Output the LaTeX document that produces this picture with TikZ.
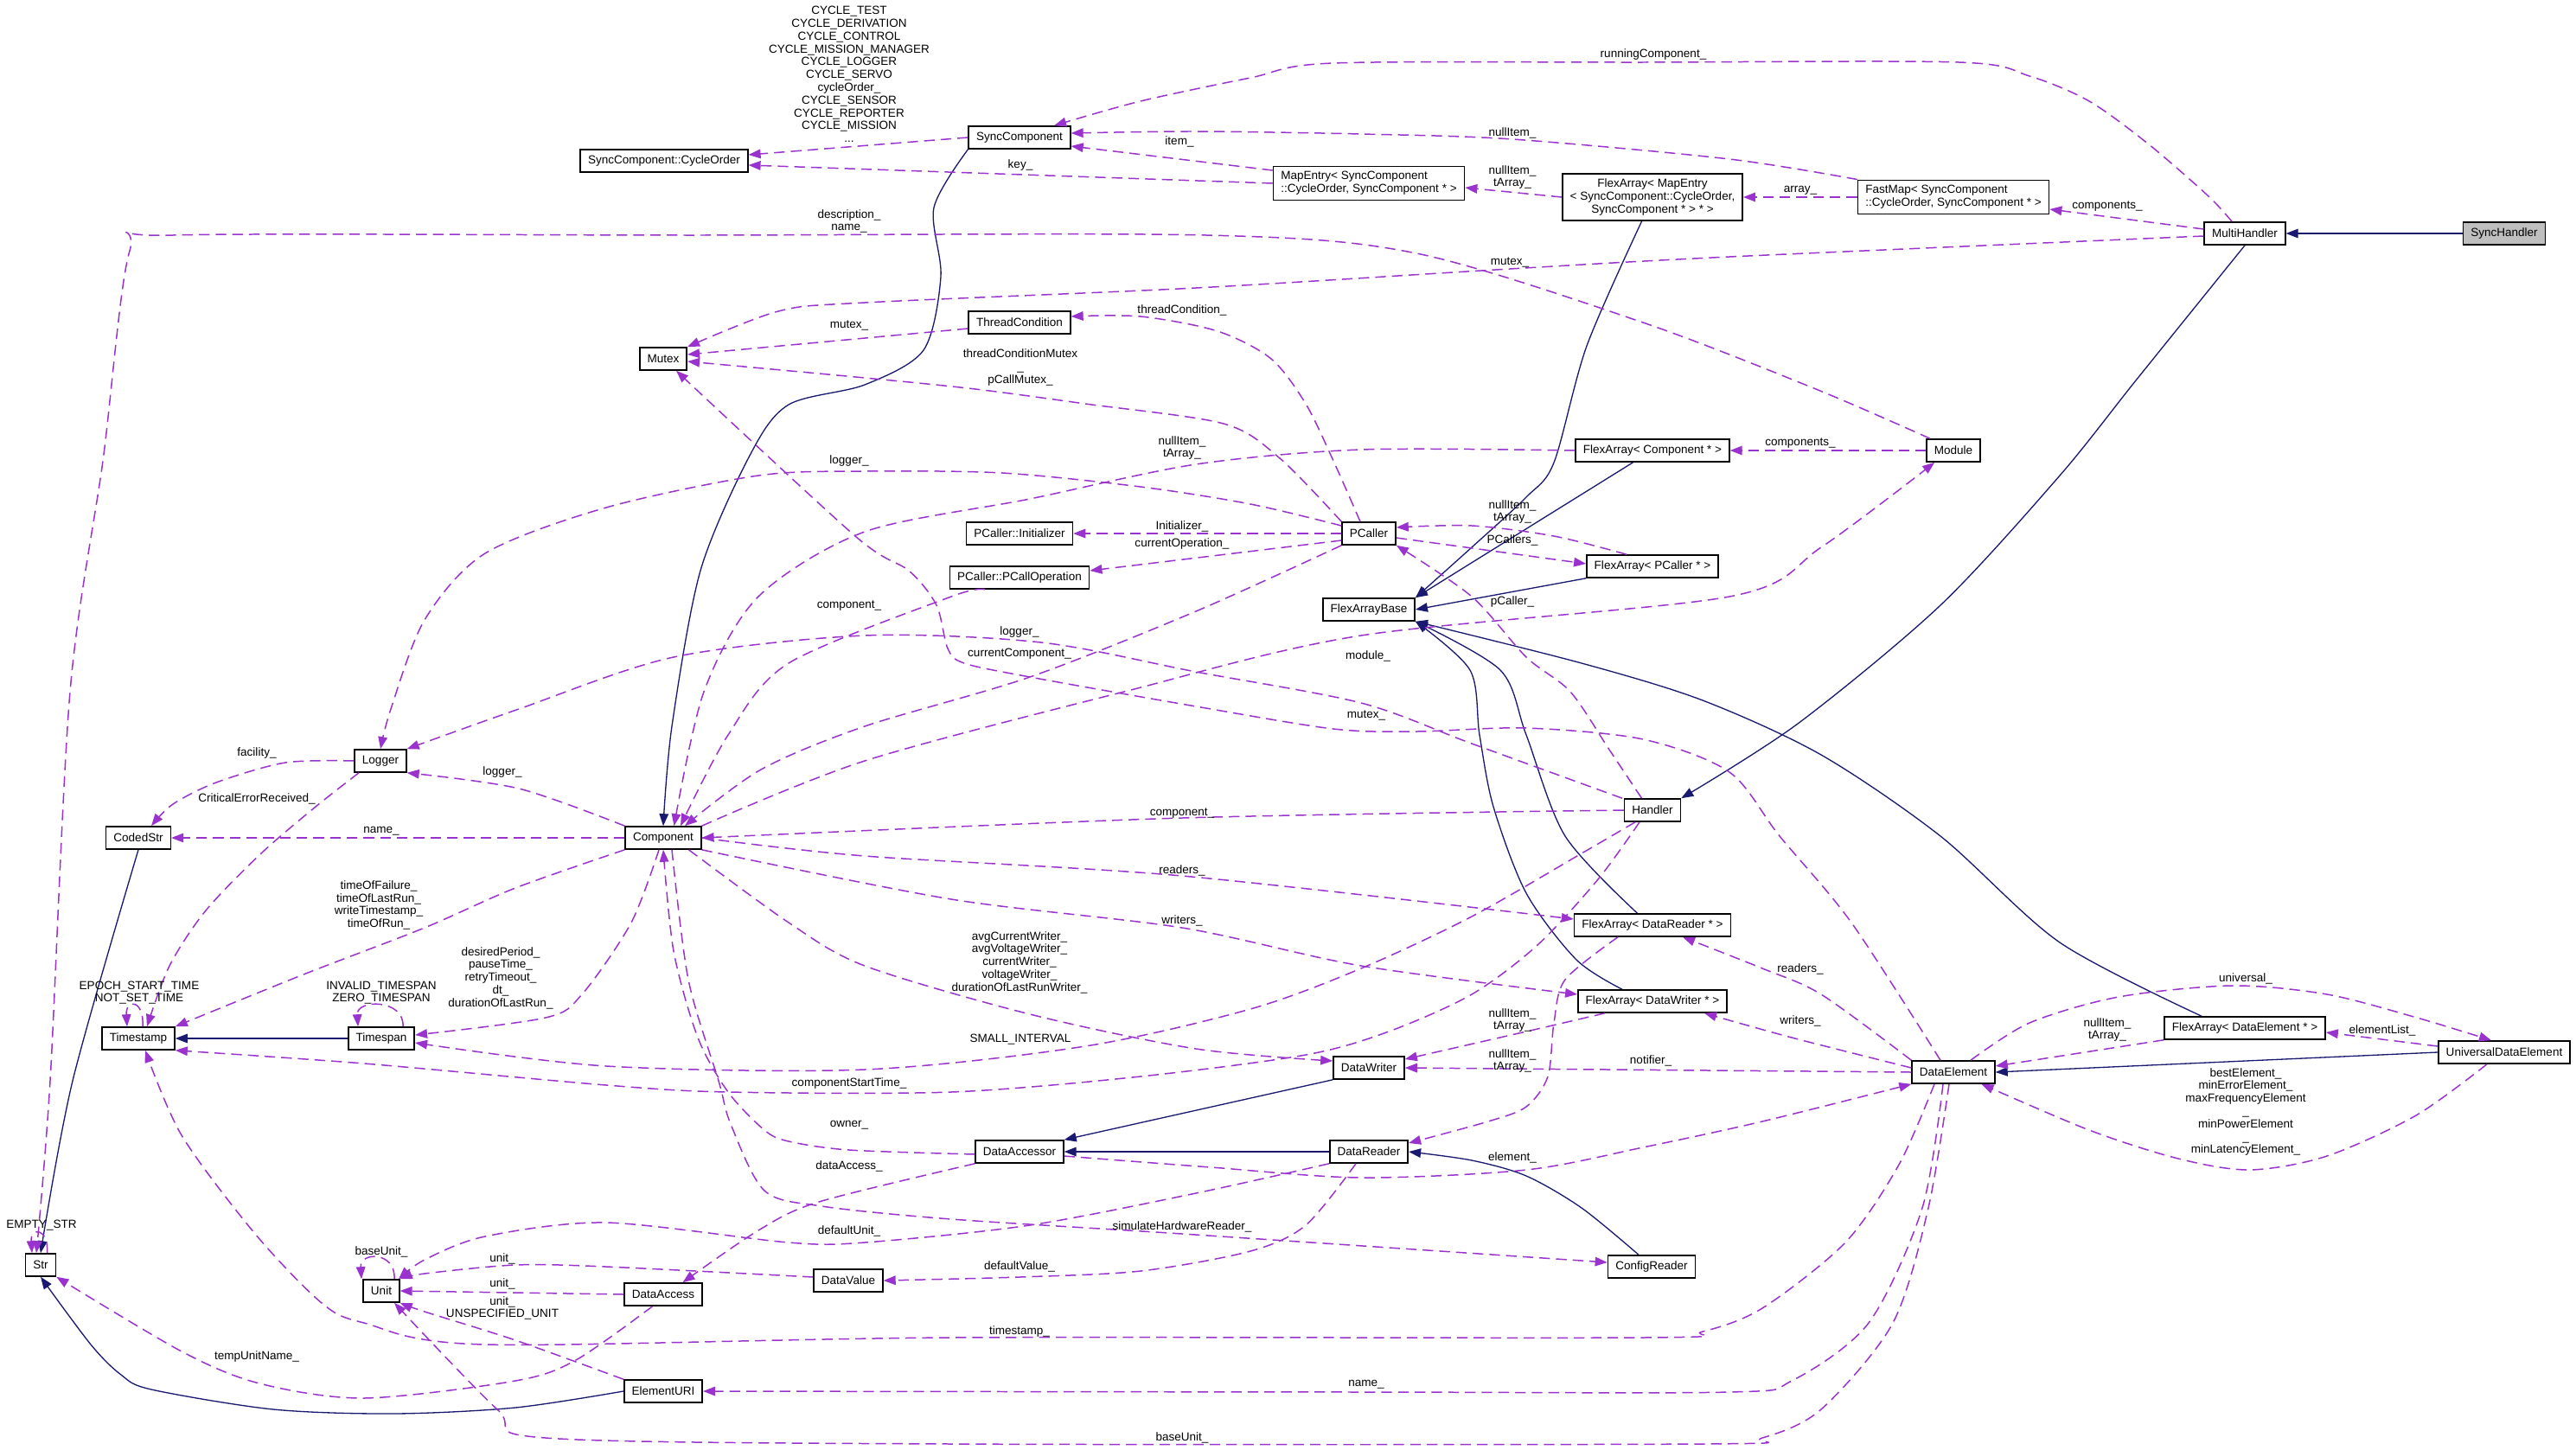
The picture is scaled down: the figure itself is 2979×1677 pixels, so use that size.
\documentclass[tikz,border=0pt]{standalone}
\usepackage{fontspec}
\setmainfont{Liberation Sans}
\usetikzlibrary{arrows.meta}
\definecolor{edgepurple}{RGB}{154,50,205}
\definecolor{inhnavy}{RGB}{25,25,112}
\definecolor{mainfill}{RGB}{191,191,191}
\def\gfont{\fontsize{7.7}{8.4}\selectfont}
\tikzset{
  cls/.style={draw=black,line width=0.9pt,fill=white,font=\gfont,inner xsep=5pt,inner ysep=3.5pt,minimum height=0.52cm},
  mainclass/.style={cls,fill=mainfill},
  lbl/.style={font=\gfont,align=center,inner sep=0pt},
  useedge/.style={draw=edgepurple,line width=0.85pt,dash pattern=on 7pt off 4pt,-{Triangle[length=8pt,width=6pt]}},
  inh/.style={draw=inhnavy,line width=0.75pt,-{Triangle[length=8pt,width=6pt]}},
}

\begin{document}
\begin{tikzpicture}[x=0.02cm,y=-0.02cm]
\useasboundingbox (0,0) rectangle (2979,1677);

% classes
\node[mainclass] (synchandler) at (2896,270) {SyncHandler};
\node[cls] (multihandler) at (2596,270) {MultiHandler};
\node[cls,align=left] (fastmap) at (2259,228) {FastMap< SyncComponent\\::CycleOrder, SyncComponent * >};
\node[cls,align=center] (flexmap) at (1911,228) {FlexArray< MapEntry\\< SyncComponent::CycleOrder,\\ SyncComponent * > * >};
\node[cls,align=left] (mapentry) at (1583,212) {MapEntry< SyncComponent\\::CycleOrder, SyncComponent * >};
\node[cls] (synccomp) at (1179,159) {SyncComponent};
\node[cls] (cycleorder) at (768,186) {SyncComponent::CycleOrder};
\node[cls] (mutex) at (767,415) {Mutex};
\node[cls] (threadcond) at (1179,373) {ThreadCondition};
\node[cls] (module) at (2259,521) {Module};
\node[cls] (flexcomp) at (1911,521) {FlexArray< Component * >};
\node[cls] (pcaller) at (1583,617) {PCaller};
\node[cls] (pcinit) at (1179,617) {PCaller::Initializer};
\node[cls] (pcop) at (1179,668) {PCaller::PCallOperation};
\node[cls] (flexpcaller) at (1911,655) {FlexArray< PCaller * >};
\node[cls] (flexbase) at (1583,705) {FlexArrayBase};
\node[cls] (logger) at (440,880) {Logger};
\node[cls] (codedstr) at (160,969) {CodedStr};
\node[cls] (component) at (767,969) {Component};
\node[cls] (timestamp) at (160,1201) {Timestamp};
\node[cls] (timespan) at (441,1201) {Timespan};
\node[cls] (handler) at (1911,937) {Handler};
\node[cls] (flexreader) at (1911,1070) {FlexArray< DataReader * >};
\node[cls] (flexwriter) at (1911,1158) {FlexArray< DataWriter * >};
\node[cls] (datawriter) at (1583,1235) {DataWriter};
\node[cls] (dataelement) at (2259,1240) {DataElement};
\node[cls] (flexelement) at (2596,1189) {FlexArray< DataElement * >};
\node[cls] (universal) at (2896,1217) {UniversalDataElement};
\node[cls] (str) at (47,1463) {Str};
\node[cls] (unit) at (441,1493) {Unit};
\node[cls] (dataaccess) at (767,1497) {DataAccess};
\node[cls] (datavalue) at (981,1481) {DataValue};
\node[cls] (elementuri) at (767,1609) {ElementURI};
\node[cls] (dataaccessor) at (1179,1332) {DataAccessor};
\node[cls] (datareader) at (1583,1332) {DataReader};
\node[cls] (configreader) at (1910,1465) {ConfigReader};

% inheritance
\draw[inh] (synchandler.west) -- (multihandler.east);
\draw[inh] plot[smooth] coordinates {(multihandler.south) (2470,440) (2382,550) (2244,700) (2079,837) (handler.north east)};
\draw[inh] plot[smooth] coordinates {(synccomp.south west) (1080,240) (1088,320) (1068,405) (1000,445) (912,468) (868,525) (810,660) (777,840) (component.north)};
\draw[inh] plot[smooth] coordinates {(codedstr.south) (84,1250) (str.north)};
\draw[inh] plot[smooth] coordinates {(elementuri.west) (596,1628) (456,1635) (316,1630) (175,1607) (140,1590) (105,1555) (str.south)};
\draw[inh] (timespan.west) -- (timestamp.east);
\draw[inh] plot[smooth] coordinates {([xshift=-0.25cm]flexmap.south) (1835,400) (1797,535) (1765,575) (1702,633) (flexbase.north east)};
\draw[inh] ([xshift=-0.45cm]flexcomp.south) -- (flexbase.north east);
\draw[inh] (flexpcaller.south west) -- (flexbase.east);
\draw[inh] plot[smooth] coordinates {([xshift=-0.35cm]flexreader.north) (1810,967) (1765,850) (1735,775) (flexbase.south east)};
\draw[inh] plot[smooth] coordinates {([xshift=-0.7cm]flexwriter.north) (1823,1110) (1765,1033) (1727,933) (1711,850) (1700,775) (flexbase.south east)};
\draw[inh] plot[smooth] coordinates {([xshift=-1cm]flexelement.north) (2382,1090) (2244,967) (2106,873) (1969,810) (1829,767) (flexbase.south east)};
\draw[inh] (datawriter.south west) -- (dataaccessor.north east);
\draw[inh] (datareader.west) -- (dataaccessor.east);
\draw[inh] plot[smooth] coordinates {([xshift=-0.3cm]configreader.north) (1829,1397) (1765,1360) (1702,1342) (datareader.east)};
\draw[inh] (universal.west) -- (dataelement.east);

% usage
\draw[useedge] (synccomp.west) -- ([yshift=0.14cm]cycleorder.east);
\draw[useedge] (mapentry.west) -- ([yshift=-0.1cm]cycleorder.east);
\draw[useedge] ([yshift=0.3cm]mapentry.west) -- ([yshift=-0.2cm]synccomp.east);
\draw[useedge] plot[smooth] coordinates {(fastmap.north west) (2000,184) (1749,161) (1574,155) (1383,152) ([yshift=0.1cm]synccomp.east)};
\draw[useedge] plot[smooth] coordinates {([xshift=-0.3cm]multihandler.north) (2554,227) (2485,167) (2416,117) (2347,88) (2265,72) (1900,72) (1542,73) (1446,90) (1319,117) ([xshift=0.8cm]synccomp.north)};
\draw[useedge] (flexmap.west) -- ([yshift=-0.1cm]mapentry.east);
\draw[useedge] (fastmap.west) -- (flexmap.east);
\draw[useedge] ([yshift=0.1cm]multihandler.west) -- ([yshift=-0.28cm]fastmap.east);
\draw[useedge] plot[smooth] coordinates {([xshift=-0.54cm]module.north) (2100,450) (1900,373) (1638,293) (1395,272) (800,272) (200,272) (150,290) (119,533) (81,800) (58,1250) ([xshift=-0.1cm]str.north)};
\draw[useedge] plot[smooth] coordinates {([yshift=-0.06cm]multihandler.west) (2000,297) (1746,311) (1383,333) (1000,350) (900,360) (mutex.north east)};
\draw[useedge] ([yshift=-0.14cm]threadcond.west) -- ([yshift=0.1cm]mutex.east);
\draw[useedge] plot[smooth] coordinates {(pcaller.north west) (1480,530) (1415,490) (1255,467) (1128,450) (1000,437) ([yshift=-0.06cm]mutex.east)};
\draw[useedge] plot[smooth] coordinates {([xshift=-0.3cm]dataelement.north) (2141,1067) (2058,967) (2000,893) (1900,855) (1765,842) (1638,846) (1542,843) (1383,817) (1191,783) (1115,767) (1096,750) (1083,700) (1051,660) (989,620) ([xshift=0.3cm]mutex.south)};
\draw[useedge] plot[smooth] coordinates {([xshift=-0.2cm]pcaller.north) (1542,533) (1510,467) (1470,415) (1408,383) (1319,366) ([yshift=0.14cm]threadcond.east)};
\draw[useedge] plot[smooth] coordinates {([yshift=0.18cm]pcaller.west) (1446,583) (1319,563) (1159,547) (1000,545) (877,550) (701,587) (561,640) (491,717) (452,820) (logger.north)};
\draw[useedge] (pcaller.west) -- (pcinit.east);
\draw[useedge] ([yshift=-0.16cm]pcaller.west) -- ([yshift=0.16cm]pcop.east);
\draw[useedge] plot[smooth] coordinates {([xshift=-0.6cm]flexpcaller.north) (1797,620) (1702,608) ([yshift=0.14cm]pcaller.east)};
\draw[useedge] ([yshift=-0.1cm]pcaller.east) -- ([yshift=0.06cm]flexpcaller.west);
\draw[useedge] plot[smooth] coordinates {([xshift=-0.25cm]handler.north) (1861,867) (1816,800) (1765,760) (1702,690) (pcaller.south east)};
\draw[useedge] (module.west) -- (flexcomp.east);
\draw[useedge] plot[smooth] coordinates {(component.north east) (1000,880) (1300,800) (1574,735) (2000,690) (2106,633) ([xshift=0.2cm]module.south west)};
\draw[useedge] plot[smooth] coordinates {(flexcomp.west) (1574,520) (1383,537) (1191,577) (1000,615) (877,690) (814,800) ([xshift=0.25cm]component.north)};
\draw[useedge] plot[smooth] coordinates {([xshift=-0.8cm]pcop.south) (1100,690) (912,767) (842,850) ([xshift=0.4cm]component.north)};
\draw[useedge] plot[smooth] coordinates {(pcaller.south west) (1383,707) (1191,783) (1000,840) (880,890) ([xshift=0.5cm]component.north)};
\draw[useedge] plot[smooth] coordinates {([xshift=-0.7cm]handler.north) (1702,860) (1574,813) (1383,777) (1204,743) (1000,735) (779,760) (600,820) (logger.north east)};
\draw[useedge] plot[smooth] coordinates {(handler.west) (1367,946) (component.east)};
\draw[useedge] plot[smooth] coordinates {([xshift=-0.4cm]handler.south) (1829,987) (1702,1060) (1574,1120) (1446,1167) (1255,1210) (1000,1237) (701,1233) ([yshift=-0.1cm]timespan.east)};
\draw[useedge] plot[smooth] coordinates {([xshift=-0.3cm]handler.south) (1848,1017) (1778,1093) (1702,1150) (1606,1193) (1510,1220) (1319,1245) (1100,1263) (842,1263) (701,1255) (421,1230) (timestamp.south east)};
\draw[useedge] (component.west) -- (codedstr.east);
\draw[useedge] plot[smooth] coordinates {(logger.west) (330,882) (250,905) (200,930) ([xshift=0.3cm]codedstr.north)};
\draw[useedge] plot[smooth] coordinates {(component.north west) (600,912) (logger.south east)};
\draw[useedge] plot[smooth] coordinates {([xshift=-0.5cm]logger.south) (365,933) (302,987) (238,1053) (196,1117) ([xshift=0.2cm]timestamp.north)};
\draw[useedge] ([xshift=0.1cm]timestamp.north) .. controls +(2,-32) and +(-2,-32) .. ([xshift=-0.26cm]timestamp.north);
\draw[useedge] plot[smooth] coordinates {(component.south west) (596,1027) (491,1073) (351,1127) (timestamp.north east)};
\draw[useedge] plot[smooth] coordinates {([xshift=-0.1cm]component.south) (730,1067) (673,1150) (631,1177) ([yshift=0.08cm]timespan.east)};
\draw[useedge] ([xshift=0.5cm]timespan.north) .. controls +(2,-32) and +(-2,-32) .. ([xshift=-0.54cm]timespan.north);
\draw[useedge] plot[smooth] coordinates {(component.east) (1000,990) (1367,1013) ([yshift=0.14cm]flexreader.west)};
\draw[useedge] plot[smooth] coordinates {(component.south east) (1100,1040) (1367,1073) (1574,1117) ([yshift=0.16cm]flexwriter.west)};
\draw[useedge] plot[smooth] coordinates {([xshift=-0.3cm]component.south east) (912,1067) (1000,1117) (1191,1173) (1383,1213) ([yshift=0.16cm]datawriter.west)};
\draw[useedge] plot[smooth] coordinates {([xshift=0.2cm]component.south) (796,1133) (831,1250) (845,1300) (884,1377) (950,1395) (1100,1410) (1367,1427) ([yshift=0.1cm]configreader.west)};
\draw[useedge] plot[smooth] coordinates {([yshift=-0.06cm]dataaccessor.west) (982,1330) (912,1320) (884,1307) (842,1263) (807,1200) (779,1100) (component.south)};
\draw[useedge] plot[smooth] coordinates {(dataaccessor.south west) (947,1390) (877,1423) ([xshift=0.45cm]dataaccess.north)};
\draw[useedge] plot[smooth] coordinates {([yshift=-0.1cm]dataaccessor.east) (1400,1350) (1574,1362) (1765,1353) (1900,1327) (2038,1297) (dataelement.south west)};
\draw[useedge] plot[smooth] coordinates {(datareader.south west) (1383,1380) (1191,1417) (1000,1437) (912,1437) (701,1414) (561,1430) (491,1457) ([xshift=0.4cm]unit.north)};
\draw[useedge] plot[smooth] coordinates {([xshift=-0.3cm]datareader.south) (1510,1417) (1446,1447) (1319,1470) (1179,1477) (datavalue.east)};
\draw[useedge] plot[smooth] coordinates {([xshift=-0.25cm]dataaccess.south) (666,1573) (596,1597) (421,1617) (300,1600) (210,1563) (str.south east)};
\draw[useedge] plot[smooth] coordinates {([yshift=0.08cm]datavalue.west) (701,1465) (596,1463) (491,1473) (unit.north east)};
\draw[useedge] (dataaccess.west) -- (unit.east);
\draw[useedge] plot[smooth] coordinates {(elementuri.north west) (596,1550) (491,1517) (unit.south east)};
\draw[useedge] ([xshift=0.3cm]unit.north) .. controls +(2,-32) and +(-2,-32) .. ([xshift=-0.46cm]unit.north);
\draw[useedge] ([xshift=0.15cm]str.north) .. controls +(2,-30) and +(-2,-30) .. ([xshift=-0.2cm]str.north);
\draw[useedge] plot[smooth] coordinates {([xshift=-0.1cm]dataelement.south) (2230,1397) (2189,1530) (2106,1630) (2038,1663) (1969,1670) (1100,1670) (631,1663) (575,1630) ([xshift=0.3cm]unit.south)};
\draw[useedge] plot[smooth] coordinates {([xshift=-0.24cm]dataelement.south) (2223,1397) (2161,1530) (2072,1597) (2000,1610) (1580,1610) (elementuri.east)};
\draw[useedge] plot[smooth] coordinates {([xshift=-0.44cm]dataelement.south) (2196,1347) (2134,1437) (2038,1513) (1969,1540) (1900,1547) (1100,1547) (561,1555) (421,1530) (372,1507) (295,1427) (210,1313) ([xshift=0.16cm]timestamp.south)};
\draw[useedge] plot[smooth] coordinates {(dataelement.north west) (2106,1150) (2038,1120) ([xshift=0.7cm]flexreader.south)};
\draw[useedge] plot[smooth] coordinates {([yshift=0.1cm]dataelement.west) (2072,1200) ([xshift=1.2cm]flexwriter.south)};
\draw[useedge] (dataelement.west) -- (datawriter.east);
\draw[useedge] plot[smooth] coordinates {([xshift=-0.8cm]flexreader.south) (1810,1133) (1797,1183) (1790,1245) (1765,1280) (1721,1297) ([yshift=0.2cm]datareader.east)};
\draw[useedge] plot[smooth] coordinates {([xshift=-1.1cm]flexwriter.south) (1765,1193) ([yshift=0.2cm]datawriter.east)};
\draw[useedge] (flexelement.south west) -- ([yshift=0.14cm]dataelement.east);
\draw[useedge] ([yshift=0.14cm]universal.west) -- ([yshift=-0.1cm]flexelement.east);
\draw[useedge] plot[smooth] coordinates {([xshift=0.4cm]dataelement.north) (2347,1183) (2450,1153) (2581,1140) (2691,1150) (2795,1177) ([xshift=-0.3cm]universal.north)};
\draw[useedge] plot[smooth] coordinates {([xshift=-0.4cm]universal.south) (2794,1290) (2691,1337) (2602,1353) (2519,1340) (2416,1307) ([xshift=0.65cm]dataelement.south)};

% labels
\node[lbl] (lcycle) at (982,86) {CYCLE\_TEST\\CYCLE\_DERIVATION\\CYCLE\_CONTROL\\CYCLE\_MISSION\_MANAGER\\CYCLE\_LOGGER\\CYCLE\_SERVO\\cycleOrder\_\\CYCLE\_SENSOR\\CYCLE\_REPORTER\\CYCLE\_MISSION\\...};
\node[lbl] (lkey) at (1180,191) {key\_};
\node[lbl] (litem) at (1364,164) {item\_};
\node[lbl] (lnullfast) at (1749,154) {nullItem\_};
\node[lbl] (lrunning) at (1912,63) {runningComponent\_};
\node[lbl] (lflexmap) at (1749,205) {nullItem\_\\tArray\_};
\node[lbl] (larray) at (2082,220) {array\_};
\node[lbl] (lcomponents) at (2437,239) {components\_};
\node[lbl] (ldescr) at (982,256) {description\_\\name\_};
\node[lbl] (lmutexmh) at (1746,303) {mutex\_};
\node[lbl] (lmutextc) at (982,376) {mutex\_};
\node[lbl] (lthreadcond) at (1367,359) {threadCondition\_};
\node[lbl] (lpcallmutex) at (1180,425) {threadConditionMutex\\\_\\pCallMutex\_};
\node[lbl] (lmodcomp) at (2082,513) {components\_};
\node[lbl] (lflexcomp) at (1367,518) {nullItem\_\\tArray\_};
\node[lbl] (lloggerpc) at (982,533) {logger\_};
\node[lbl] (linit) at (1367,609) {Initializer\_};
\node[lbl] (lcurop) at (1367,629) {currentOperation\_};
\node[lbl] (lflexpc) at (1749,592) {nullItem\_\\tArray\_};
\node[lbl] (lpcallers) at (1749,625) {PCallers\_};
\node[lbl] (lpcallerh) at (1749,696) {pCaller\_};
\node[lbl] (lcompop) at (982,701) {component\_};
\node[lbl] (lloggerh) at (1179,731) {logger\_};
\node[lbl] (lcurcomp) at (1179,756) {currentComponent\_};
\node[lbl] (lmodule) at (1582,759) {module\_};
\node[lbl] (lmutexde) at (1580,827) {mutex\_};
\node[lbl] (lfacility) at (297,871) {facility\_};
\node[lbl] (lloggerc) at (581,893) {logger\_};
\node[lbl] (lcritical) at (297,924) {CriticalErrorReceived\_};
\node[lbl] (lcomph) at (1367,941) {component\_};
\node[lbl] (lnamec) at (441,961) {name\_};
\node[lbl] (lreaders) at (1367,1007) {readers\_};
\node[lbl] (ltimes) at (438,1047) {timeOfFailure\_\\timeOfLastRun\_\\writeTimestamp\_\\timeOfRun\_};
\node[lbl] (lwriters) at (1367,1065) {writers\_};
\node[lbl] (lwritervars) at (1179,1113) {avgCurrentWriter\_\\avgVoltageWriter\_\\currentWriter\_\\voltageWriter\_\\durationOfLastRunWriter\_};
\node[lbl] (lreadersde) at (2082,1121) {readers\_};
\node[lbl] (luniversal) at (2597,1132) {universal\_};
\node[lbl] (lperiods) at (579,1131) {desiredPeriod\_\\pauseTime\_\\retryTimeout\_\\dt\_\\durationOfLastRun\_};
\node[lbl] (lepoch) at (161,1148) {EPOCH\_START\_TIME\\NOT\_SET\_TIME};
\node[lbl] (linvalid) at (441,1148) {INVALID\_TIMESPAN\\ZERO\_TIMESPAN};
\node[lbl] (lflexw) at (1749,1180) {nullItem\_\\tArray\_};
\node[lbl] (lwritersde) at (2082,1181) {writers\_};
\node[lbl] (lflexe) at (2437,1191) {nullItem\_\\tArray\_};
\node[lbl] (lelemlist) at (2755,1192) {elementList\_};
\node[lbl] (lsmall) at (1180,1202) {SMALL\_INTERVAL};
\node[lbl] (lflexr) at (1749,1227) {nullItem\_\\tArray\_};
\node[lbl] (lnotifier) at (1909,1227) {notifier\_};
\node[lbl] (lbest) at (2597,1286) {bestElement\_\\minErrorElement\_\\maxFrequencyElement\\\_\\minPowerElement\\\_\\minLatencyElement\_};
\node[lbl] (lstart) at (982,1253) {componentStartTime\_};
\node[lbl] (lowner) at (982,1301) {owner\_};
\node[lbl] (lelement) at (1749,1339) {element\_};
\node[lbl] (ldataacc) at (982,1349) {dataAccess\_};
\node[lbl] (lempty) at (48,1417) {EMPTY\_STR};
\node[lbl] (lsim) at (1367,1419) {simulateHardwareReader\_};
\node[lbl] (ldefunit) at (982,1424) {defaultUnit\_};
\node[lbl] (lbaseunitself) at (441,1448) {baseUnit\_};
\node[lbl] (lunitdv) at (581,1456) {unit\_};
\node[lbl] (ldefval) at (1179,1465) {defaultValue\_};
\node[lbl] (lunitda) at (581,1485) {unit\_};
\node[lbl] (lunituri) at (581,1513) {unit\_\\UNSPECIFIED\_UNIT};
\node[lbl] (ltimestamp) at (1179,1540) {timestamp\_};
\node[lbl] (ltemp) at (297,1569) {tempUnitName\_};
\node[lbl] (lnamede) at (1580,1601) {name\_};
\node[lbl] (lbaseunit) at (1367,1663) {baseUnit\_};
\end{tikzpicture}
\end{document}
